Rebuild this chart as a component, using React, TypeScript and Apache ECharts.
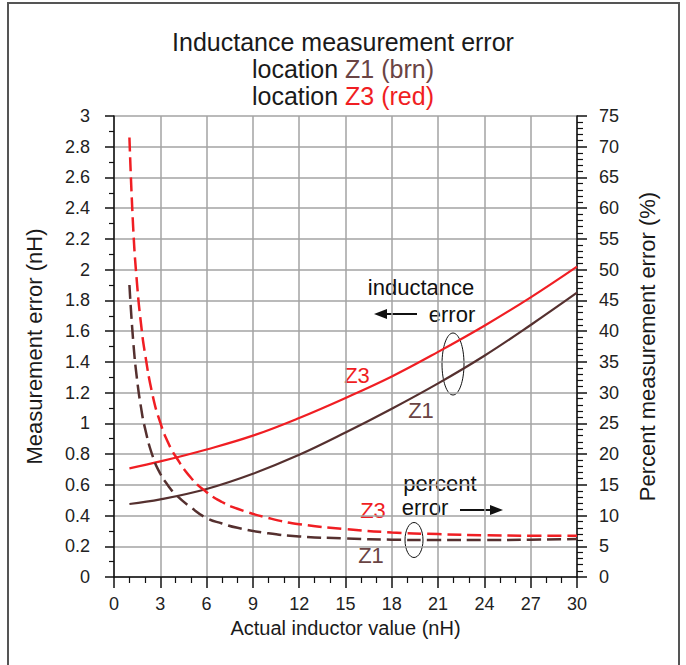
import React, { useEffect, useRef } from "react";
import * as echarts from "echarts";

const FONT = "'Liberation Sans', Arial, sans-serif";
const RED = "#f01e23";
const BROWN = "#55302f";
const BROWN_TXT = "#6a4444";

// Inductance error (nH), left axis
const solidX = [1, 3, 6, 9, 12, 15, 18, 21, 24, 27, 30];
const z3ErrorNH = [0.707, 0.752, 0.83, 0.92, 1.035, 1.165, 1.305, 1.465, 1.635, 1.82, 2.02];
const z1ErrorNH = [0.475, 0.505, 0.573, 0.672, 0.795, 0.94, 1.095, 1.26, 1.44, 1.64, 1.85];

// Percent error (%), right axis
const dashX = [1, 1.25, 1.5, 1.75, 2, 2.5, 3, 3.5, 4, 5, 6, 7, 8, 10, 12, 15, 18, 21, 24, 27, 30];
const z3ErrorPct = [71.5, 56.5, 47.5, 41.2, 36.5, 29.6, 25.1, 21.9, 19.6, 16.1, 13.8, 12.2, 11.1, 9.6, 8.6, 7.8, 7.25, 6.98, 6.8, 6.73, 6.73];
const z1ErrorPct = [47.5, 38.2, 32, 27.6, 24.3, 19.7, 16.8, 14.9, 13.4, 11.3, 9.6, 8.7, 8.0, 7.1, 6.6, 6.27, 6.08, 6.0, 6.0, 6.07, 6.17];

const xTicks = { min: 0, max: 30, interval: 3 };
const leftTicks = { min: 0, max: 3, interval: 0.2 };
const rightTicks = { min: 0, max: 75, interval: 5 };

const pair = (xs: number[], ys: number[]) => xs.map((x, i) => [x, ys[i]]);

export default function App() {
  const ref = useRef<HTMLDivElement>(null);
  useEffect(() => {
    if (!ref.current) return;
    const chart = echarts.init(ref.current, null, { renderer: "svg" });
    const axisLine = { show: true, lineStyle: { color: "#111", width: 1.5 } };
    const txt = (text: string, x: number, y: number, fill: string, size = 22) => ({
      type: "text",
      x,
      y,
      style: { text, fill, fontSize: size, fontFamily: FONT, align: "center", verticalAlign: "middle" },
    });
    chart.setOption({
      animation: false,
      backgroundColor: "#fff",
      title: {
        text: "Inductance measurement error\nlocation {b|Z1 (brn)}\nlocation {r|Z3 (red)}",
        left: "center",
        top: 23,
        textStyle: {
          fontSize: 25,
          fontWeight: "normal",
          color: "#1a1a1a",
          lineHeight: 27,
          fontFamily: FONT,
          rich: {
            b: { color: BROWN_TXT, fontSize: 25, lineHeight: 27, fontFamily: FONT },
            r: { color: RED, fontSize: 25, lineHeight: 27, fontFamily: FONT },
          },
        },
      },
      grid: { left: 114, right: 109, top: 116, bottom: 88, containLabel: false },
      xAxis: {
        type: "value",
        ...xTicks,
        name: "Actual inductor value (nH)",
        nameLocation: "middle",
        nameGap: 35,
        nameTextStyle: { fontSize: 20, color: "#1a1a1a", fontFamily: FONT },
        axisLine,
        axisTick: { show: true, length: 11, lineStyle: { color: "#111", width: 1.5 } },
        minorTick: { show: true, splitNumber: 3, length: 6, lineStyle: { color: "#111", width: 1.2 } },
        axisLabel: { fontSize: 18, color: "#222", fontFamily: FONT, margin: 18 },
        splitLine: { show: true, lineStyle: { color: "#a3a3a3", width: 1.5 } },
      },
      yAxis: [
        {
          type: "value",
          ...leftTicks,
          name: "Measurement error (nH)",
          nameLocation: "middle",
          nameGap: 69,
          nameTextStyle: { fontSize: 22, color: "#1a1a1a", fontFamily: FONT },
          axisLine,
          axisTick: { show: true, length: 9, lineStyle: { color: "#111", width: 1.5 } },
          minorTick: { show: true, splitNumber: 2, length: 5, lineStyle: { color: "#111", width: 1.2 } },
          axisLabel: {
            fontSize: 18,
            color: "#222",
            fontFamily: FONT,
            margin: 24,
            formatter: (v: number) => String(+v.toFixed(1)),
          },
          splitLine: { show: true, lineStyle: { color: "#a3a3a3", width: 1.5 } },
        },
        {
          type: "value",
          ...rightTicks,
          position: "right",
          name: "Percent measurement error (%)",
          nameLocation: "middle",
          nameGap: 59,
          nameRotate: 90,
          nameTextStyle: { fontSize: 22, color: "#1a1a1a", fontFamily: FONT },
          axisLine,
          axisTick: { show: true, length: 10, lineStyle: { color: "#111", width: 1.5 } },
          minorTick: { show: true, splitNumber: 5, length: 6, lineStyle: { color: "#111", width: 1.2 } },
          axisLabel: { fontSize: 18, color: "#222", fontFamily: FONT, margin: 22 },
          splitLine: { show: false },
        },
      ],
      series: [
        {
          name: "Z3 inductance error",
          type: "line",
          yAxisIndex: 0,
          data: pair(solidX, z3ErrorNH),
          smooth: 0.4,
          showSymbol: false,
          lineStyle: { color: RED, width: 2.2 },
        },
        {
          name: "Z1 inductance error",
          type: "line",
          yAxisIndex: 0,
          data: pair(solidX, z1ErrorNH),
          smooth: 0.4,
          showSymbol: false,
          lineStyle: { color: BROWN, width: 2.2 },
        },
        {
          name: "Z3 percent error",
          type: "line",
          yAxisIndex: 1,
          data: pair(dashX, z3ErrorPct),
          smooth: true,
          showSymbol: false,
          lineStyle: { color: RED, width: 2.5, type: [14, 6] },
        },
        {
          name: "Z1 percent error",
          type: "line",
          yAxisIndex: 1,
          data: pair(dashX, z1ErrorPct),
          smooth: true,
          showSymbol: false,
          lineStyle: { color: BROWN, width: 2.5, type: [14, 6] },
        },
      ],
      graphic: [
        {
          type: "rect",
          shape: { x: 8, y: 3, width: 671, height: 680 },
          style: { fill: "none", stroke: "#555", lineWidth: 2 },
          silent: true,
        },
        txt("inductance", 421, 287, "#111"),
        txt("error", 452, 314, "#111"),
        { type: "line", shape: { x1: 417, y1: 314, x2: 384, y2: 314 }, style: { stroke: "#111", lineWidth: 2 } },
        { type: "polygon", shape: { points: [[374, 314], [387, 309], [387, 319]] }, style: { fill: "#111" } },
        { type: "ellipse", shape: { cx: 453, cy: 364, rx: 11, ry: 31 }, style: { fill: "none", stroke: "#111", lineWidth: 1 } },
        txt("Z3", 357, 375, RED),
        txt("Z1", 421, 410, BROWN_TXT),
        txt("percent", 440, 483, "#111"),
        txt("error", 425, 507, "#111"),
        { type: "line", shape: { x1: 460, y1: 510, x2: 492, y2: 510 }, style: { stroke: "#111", lineWidth: 2 } },
        { type: "polygon", shape: { points: [[503, 510], [490, 505], [490, 515]] }, style: { fill: "#111" } },
        { type: "ellipse", shape: { cx: 414, cy: 540, rx: 9, ry: 17.5 }, style: { fill: "none", stroke: "#111", lineWidth: 1 } },
        txt("Z3", 373, 510, RED),
        txt("Z1", 371, 555, BROWN_TXT),
      ],
    });
    return () => chart.dispose();
  }, []);
  return (
    <div
      ref={ref}
      style={{ position: "fixed", left: 0, top: 0, width: 686, height: 665, background: "#fff" }}
    />
  );
}
